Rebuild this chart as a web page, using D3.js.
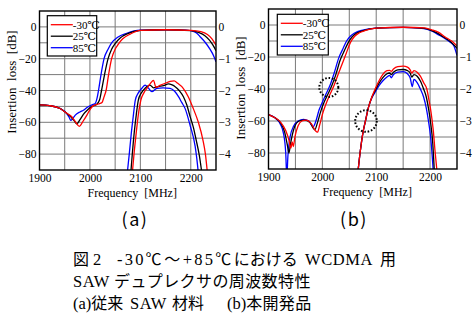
<!DOCTYPE html>
<html>
<head>
<meta charset="utf-8">
<script src="https://cdn.jsdelivr.net/npm/d3@7"></script>
<style>
  body { margin: 0; background: #fff; }
  svg { display: block; }
  .serif { font-family: "Liberation Serif", "DejaVu Serif", "Times New Roman", serif; }
  .cjk { font-family: "Noto Sans CJK JP", sans-serif; }
</style>
</head>
<body>
<div id="chart"></div>
<script>
// frequency [MHz], insertion loss [dB]
var tempLabels = ['-30℃', '25℃', '85℃'];
var tempColors = ['#ff0000', '#000000', '#0000ff'];

// (a) conventional SAW material - Tx filter
var txA_m30 = [[1900,-49],[1920,-49.5],[1941,-51.3],[1954,-54.3],[1964,-56.5],[1972,-60],[1979,-62.5],[1986,-59.5],[1994,-55.5],[2001,-51.5],[2007,-49.5],[2017,-48.5],[2024,-47.5],[2028,-44],[2032,-40],[2037,-30],[2043,-20],[2050,-14],[2056,-11],[2065,-7.5],[2080,-4.5],[2100,-2.2],[2150,-1.8],[2200,-2.2],[2220,-3],[2233,-4.8],[2242,-7.5],[2250,-11.5]];
var txA_25 = [[1900,-49],[1920,-49.5],[1941,-51.3],[1954,-54.3],[1962,-56.5],[1969,-59],[1974,-61],[1980,-58.5],[1987,-55],[1996,-52],[2004,-50],[2013,-48.8],[2019,-46],[2023,-40],[2029,-30],[2036,-20],[2043,-14],[2050,-10.5],[2060,-7],[2075,-4.2],[2100,-2.2],[2150,-1.8],[2200,-2.4],[2215,-3.5],[2228,-5.5],[2237,-8.3],[2244,-11.5],[2250,-15]];
var txA_85 = [[1900,-49],[1920,-49.5],[1941,-51.3],[1954,-54.5],[1959,-57],[1962,-58.8],[1966,-57.5],[1971,-55.5],[1980,-53.5],[1987,-52.4],[1995,-50.5],[2004,-49],[2010,-48.3],[2014,-45],[2017,-40],[2022,-30],[2028,-20],[2036,-14],[2043,-10],[2055,-6.5],[2073,-4],[2100,-2.1],[2150,-1.8],[2190,-2],[2205,-2.8],[2212,-4],[2218,-6],[2228,-9.5],[2238,-14],[2245,-18],[2250,-22]];

// (a) conventional SAW material - Rx filter
var rxA_m30 = [[2084,-92],[2088,-78],[2092,-66],[2097,-53],[2101,-46],[2107,-41.5],[2113,-38.6],[2120,-35.5],[2126,-33.6],[2131,-38],[2139,-36.8],[2149,-35.5],[2159,-34.3],[2167,-34],[2174,-35.5],[2185,-38.6],[2195,-43.9],[2205,-51.4],[2215,-60],[2224,-71],[2229,-80],[2233,-92]];
var rxA_25 = [[2081,-92],[2084,-80],[2088,-66],[2092,-55],[2096,-46],[2102,-41.5],[2109.5,-38.6],[2119,-36.6],[2126,-38.3],[2135,-37.5],[2146,-37],[2155.7,-35.8],[2163,-36.5],[2169,-37.6],[2177,-40],[2185.4,-43.9],[2192,-49],[2198.7,-56.4],[2205,-63],[2210.6,-71],[2217,-81],[2222,-92]];
var rxA_85 = [[2074,-92],[2078,-80],[2082,-67],[2086,-56],[2090,-46],[2096,-41.5],[2103,-38.6],[2109.5,-36.6],[2116,-38.5],[2122.8,-40.7],[2132.7,-38.6],[2145,-38.3],[2159,-38.6],[2168,-40.5],[2175.6,-43.9],[2182,-47.5],[2188.8,-51.4],[2198.7,-62],[2208.6,-75],[2212,-83],[2215,-92]];

// (b) newly developed product - Tx filter
var txB_m30 = [[1900,-56],[1912,-58],[1922,-60.5],[1932,-66],[1938,-72],[1941.5,-77],[1944,-73],[1946,-76],[1949,-70],[1955,-63],[1962,-60],[1970,-59.5],[1980,-62],[1987,-66],[1991,-67],[1995,-62.5],[2000,-56],[2006,-50],[2014,-43.5],[2022,-37.5],[2028,-32],[2036,-25],[2044,-18],[2052,-11],[2060,-7],[2068,-5],[2080,-3.4],[2100,-2],[2150,-1.4],[2190,-1.8],[2203,-3],[2215,-4.5],[2228,-7.5],[2240,-10],[2250,-13]];
var txB_25 = [[1900,-56],[1912,-58],[1922,-61],[1930,-67],[1935,-75],[1938,-80],[1941,-74],[1948,-64],[1957,-60],[1967,-59.5],[1977,-61],[1983,-64.5],[1986,-65.5],[1991,-61],[1997,-54],[2003,-48.5],[2010,-43.5],[2018,-37.5],[2025,-31],[2033,-22],[2041,-16],[2048,-11],[2055,-7.5],[2063,-5.2],[2078,-3.3],[2100,-2],[2150,-1.5],[2185,-2],[2200,-3],[2212,-4.8],[2225,-7.5],[2238,-10.5],[2250,-14.5]];
var txB_85 = [[1900,-56],[1912,-58],[1922,-62],[1928,-68],[1932,-80],[1934,-95],[1936,-82],[1940,-70],[1947,-63],[1955,-60],[1965,-59],[1975,-60],[1980,-62.5],[1983,-63.5],[1988,-60],[1994,-53],[1999,-49],[2007,-43],[2015,-37],[2022,-30],[2030,-21],[2038,-15],[2045,-10],[2052,-7],[2060,-5],[2075,-3.2],[2100,-2],[2150,-1.5],[2180,-2],[2195,-2.8],[2205,-4],[2215,-6],[2228,-8.5],[2238,-11],[2244,-13],[2250,-19]];

// (b) newly developed product - Rx filter
var rxB_m30 = [[2066,-92],[2070,-80],[2075,-68],[2080,-60],[2086,-51],[2092,-45],[2098,-40],[2105,-35],[2112,-31],[2120,-28.5],[2125,-28.3],[2128,-29],[2132,-27.5],[2140,-26],[2150,-25.7],[2158,-26.3],[2163,-28],[2166,-30],[2170,-28.5],[2176,-29.5],[2182,-32],[2188,-36],[2194,-40],[2198,-47],[2202,-55],[2206,-66],[2209,-78],[2213,-92]];
var rxB_25 = [[2066,-92],[2070,-80],[2075,-68],[2080,-60],[2086,-51],[2092,-45],[2098,-41],[2105,-36.5],[2112,-33],[2120,-30.5],[2125,-30],[2128,-31],[2132,-29.5],[2140,-28],[2150,-27.8],[2158,-28.5],[2163,-30],[2166,-32.5],[2170,-31],[2176,-32],[2182,-35],[2188,-40],[2193,-45],[2197,-52],[2201,-61],[2205,-74],[2208,-92]];
var rxB_85 = [[2066,-92],[2070,-80],[2075,-68],[2080,-60],[2086,-51],[2092,-45.5],[2098,-42],[2105,-38],[2112,-35],[2120,-32.5],[2125,-31.5],[2128,-33],[2132,-31],[2140,-29.5],[2150,-29.2],[2158,-30.5],[2163,-33],[2167,-38.5],[2170,-34],[2176,-36],[2182,-40],[2188,-45],[2193,-52],[2197,-60],[2201,-70],[2204,-82],[2206,-92]];

// dotted circles marked on (b): [MHz, dB, radius px]
var marksB = [[2012,-39,9.5],[2081,-60,10.8]];

var xTicks = [1900, 2000, 2100, 2200];
var yTicks = [0, -20, -40, -60, -80];
var rightTicks = [0, -1, -2, -3, -4];

// caption, split into runs (latin runs get the serif face)
var captionLines = [
    ['図', '2', '-30', '℃～', '+85', '℃', 'における', 'WCDMA', '用'],
    ['SAW', 'デュプレクサの周波数特性'],
    ['(a)', '従来', 'SAW', '材料', '(b)', '本開発品']
];

var svg = d3.select('#chart')
    .append('svg')
    .attr('width', 476)
    .attr('height', 322)
    .style('background', '#fff');

function drawPanel(p) {
    var x = d3.scaleLinear().domain([1900, 2250]).range([p.left, p.right]);
    var y = d3.scaleLinear().domain([-90, 10]).range([p.bottom, p.top]);
    var y2 = d3.scaleLinear().domain([-4.5, 0.5]).range([p.bottom, p.top]);

    var g = svg.append('g');

    g.append('clipPath').attr('id', 'clip' + p.id)
        .append('rect')
        .attr('x', p.left).attr('y', p.top)
        .attr('width', p.right - p.left).attr('height', p.bottom - p.top);

    // grid
    g.append('g')
        .selectAll('line')
        .data(d3.range(1950, 2250, 50))
        .enter().append('line')
        .attr('x1', function(d) { return x(d); })
        .attr('x2', function(d) { return x(d); })
        .attr('y1', p.top).attr('y2', p.bottom)
        .attr('stroke', '#7a7a7a').attr('stroke-width', 1);
    g.append('g')
        .selectAll('line')
        .data(d3.range(-80, 10, 10))
        .enter().append('line')
        .attr('y1', function(d) { return y(d); })
        .attr('y2', function(d) { return y(d); })
        .attr('x1', p.left).attr('x2', p.right)
        .attr('stroke', '#7a7a7a').attr('stroke-width', 1);

    // axes (labels only)
    var axB = g.append('g')
        .attr('transform', 'translate(0,' + p.bottom + ')')
        .call(d3.axisBottom(x).tickValues(xTicks).tickSize(0).tickPadding(3.5).tickFormat(d3.format('d')));
    var axL = g.append('g')
        .attr('transform', 'translate(' + p.left + ',0)')
        .call(d3.axisLeft(y).tickValues(yTicks).tickSize(0).tickPadding(3).tickFormat(d3.format('d')));
    var axR = g.append('g')
        .attr('transform', 'translate(' + p.right + ',0)')
        .call(d3.axisRight(y2).tickValues(rightTicks).tickSize(0).tickPadding(2.5).tickFormat(d3.format('d')));
    [axB, axL, axR].forEach(function(a) {
        a.select('.domain').remove();
        a.attr('font-family', null).attr('font-size', null);
        a.selectAll('text')
            .attr('class', 'serif')
            .attr('font-size', 11.5)
            .attr('fill', '#000');
    });

    // curves
    var line = d3.line()
        .x(function(d) { return x(d[0]); })
        .y(function(d) { return y(d[1]); })
        .curve(d3.curveMonotoneX);
    var curves = g.append('g').attr('clip-path', 'url(#clip' + p.id + ')');
    // draw 85, 25, -30 so red is on top like the original
    [2, 1, 0].forEach(function(i) {
        [p.tx[i], p.rx[i]].forEach(function(s) {
            curves.append('path')
                .datum(s)
                .attr('d', line)
                .attr('fill', 'none')
                .attr('stroke', tempColors[i])
                .attr('stroke-width', 1.3);
        });
    });

    if (p.marks) {
        g.append('g').selectAll('circle')
            .data(p.marks)
            .enter().append('circle')
            .attr('cx', function(d) { return x(d[0]); })
            .attr('cy', function(d) { return y(d[1]); })
            .attr('r', function(d) { return d[2]; })
            .attr('fill', 'none')
            .attr('stroke', '#000')
            .attr('stroke-width', 2)
            .attr('stroke-dasharray', '1.6,1.8');
    }

    // frame
    g.append('rect')
        .attr('x', p.left).attr('y', p.top)
        .attr('width', p.right - p.left).attr('height', p.bottom - p.top)
        .attr('fill', 'none').attr('stroke', '#000').attr('stroke-width', 1.4);

    // legend
    var lg = g.append('g');
    lg.append('rect')
        .attr('x', p.leg[0]).attr('y', p.leg[1])
        .attr('width', p.leg[2]).attr('height', p.leg[3])
        .attr('fill', '#fff').attr('stroke', '#000').attr('stroke-width', 1.2);
    tempLabels.forEach(function(t, i) {
        var ly = p.leg[1] + 9 + i * 11.5;
        lg.append('line')
            .attr('x1', p.leg[0] + 3.5).attr('x2', p.leg[0] + 25.5)
            .attr('y1', ly).attr('y2', ly)
            .attr('stroke', tempColors[i]).attr('stroke-width', 1.3);
        lg.append('text')
            .attr('class', 'serif')
            .attr('x', p.leg[0] + 25.5).attr('y', ly + 4)
            .attr('font-size', 11)
            .text(t);
    });

    // titles
    g.append('text')
        .attr('class', 'serif')
        .attr('x', (p.left + p.right) / 2 + 4.5)
        .attr('y', p.bottom + 27)
        .attr('text-anchor', 'middle')
        .attr('font-size', 12)
        .attr('xml:space', 'preserve')
        .text('Frequency  [MHz]');
    g.append('text')
        .attr('class', 'serif')
        .attr('transform', 'translate(' + p.ylabX + ',' + p.ylabY + ') rotate(-90)')
        .attr('text-anchor', 'middle')
        .attr('font-size', 13)
        .attr('xml:space', 'preserve')
        .text('Insertion  loss  [dB]');

    g.append('text')
        .attr('x', p.tagX).attr('y', 226)
        .attr('text-anchor', 'middle')
        .attr('font-family', "'Noto Sans CJK JP', 'Noto Sans', sans-serif")
        .attr('font-size', 18)
        .attr('letter-spacing', 1.5)
        .text(p.tag);
}

drawPanel({
    id: 'a', left: 39.5, right: 216, top: 11, bottom: 170,
    tx: [txA_m30, txA_25, txA_85], rx: [rxA_m30, rxA_25, rxA_85],
    leg: [47.3, 15.7, 49.4, 40.3], ylabX: 16, ylabY: 82, tagX: 135, tag: '(a)'
});
drawPanel({
    id: 'b', left: 268.5, right: 457, top: 9, bottom: 169,
    tx: [txB_m30, txB_25, txB_85], rx: [rxB_m30, rxB_25, rxB_85],
    marks: marksB,
    leg: [277.3, 14.3, 51, 40.7], ylabX: 244.5, ylabY: 88, tagX: 354, tag: '(b)'
});

// caption: runs placed like the justified original (null = follows previous run)
var capX = [
    [73, 93, 117, null, null, null, null, 305, 380],
    [73, 114],
    [73, null, 130, 172, 227, null]
];
var capSpacing = [
    [0, 0, 2.2, 2.6, 2.2, 2.6, 0, 0.6, 0],
    [0.5, 0.4],
    [0, 0, 0.5, 0, 0, 0.3]
];
var cap = svg.append('g');
captionLines.forEach(function(segs, i) {
    var t = cap.append('text')
        .attr('y', 265 + i * 22);
    segs.forEach(function(s, j) {
        var latin = /^[\x00-\x7f]+$/.test(s);
        var ts = t.append('tspan')
            .attr('class', latin ? 'serif' : 'cjk')
            .attr('font-size', latin ? 16.5 : 16)
            .attr('letter-spacing', capSpacing[i][j])
            .text(s);
        if (capX[i][j] !== null) ts.attr('x', capX[i][j]);
    });
});
</script>
</body>
</html>
